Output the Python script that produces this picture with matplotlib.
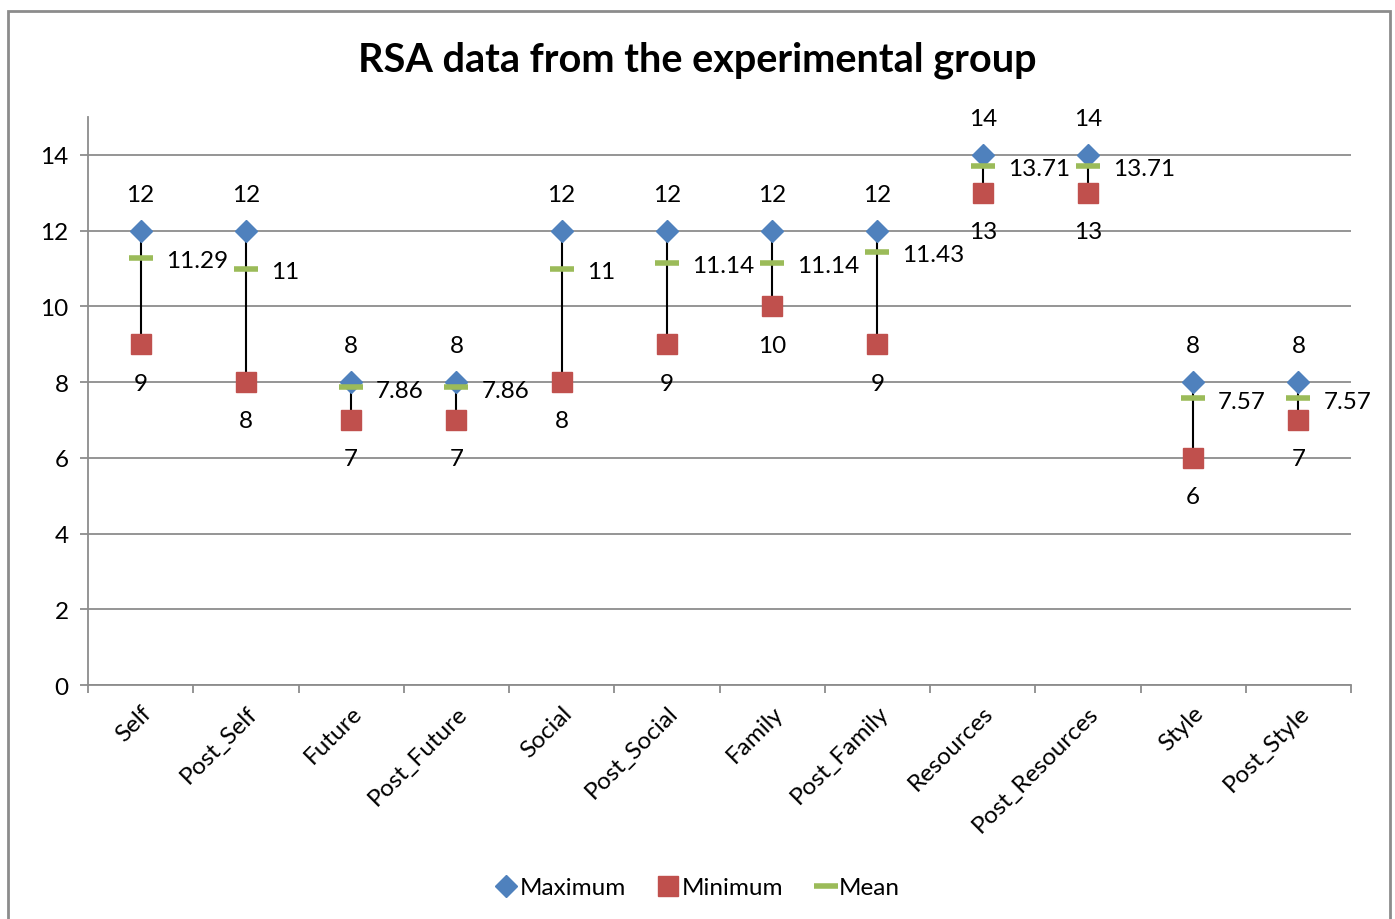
import matplotlib.pyplot as plt
from matplotlib.patches import Rectangle

categories = ["Self", "Post_Self", "Future", "Post_Future", "Social", "Post_Social",
              "Family", "Post_Family", "Resources", "Post_Resources", "Style", "Post_Style"]
maximum = [12, 12, 8, 8, 12, 12, 12, 12, 14, 14, 8, 8]
minimum = [9, 8, 7, 7, 8, 9, 10, 9, 13, 13, 6, 7]
mean = [11.29, 11, 7.86, 7.86, 11, 11.14, 11.14, 11.43, 13.71, 13.71, 7.57, 7.57]

plt.rcParams['font.family'] = ['Lato', 'DejaVu Sans']
FS = 17.5

fig = plt.figure(figsize=(13.95, 9.2), dpi=100)
ax = fig.add_axes([0.0631, 0.2543, 0.9054, 0.6174])

x = list(range(len(categories)))

# high-low lines
ax.vlines(x, minimum, maximum, color='black', lw=1.5, zorder=3)
ax.plot(x, maximum, ls='none', marker='D', ms=11, color='#4F81BD', label='Maximum', zorder=4)
ax.plot(x, minimum, ls='none', marker='s', ms=15, color='#C0504D', label='Minimum', zorder=4)
ax.plot(x, mean, ls='none', marker='_', ms=17, mew=4, color='#9BBB59', label='Mean', zorder=5)

def fmt(v):
    return ('%.2f' % v).rstrip('0').rstrip('.')

for i in x:
    ax.annotate(fmt(maximum[i]), (i, maximum[i]), xytext=(0, 26), textcoords='offset points',
                ha='center', va='center', fontsize=FS)
    ax.annotate(fmt(minimum[i]), (i, minimum[i]), xytext=(0, -28), textcoords='offset points',
                ha='center', va='center', fontsize=FS)
    ax.annotate(fmt(mean[i]), (i, mean[i]), xytext=(18, -2), textcoords='offset points',
                ha='left', va='center', fontsize=FS)

ax.set_xlim(-0.5, len(categories) - 0.5)
ax.set_ylim(0, 15)
ax.set_yticks(range(0, 15, 2))
ax.grid(axis='y', color='#8C8C8C', lw=1.3)
ax.set_axisbelow(True)

ax.set_xticks([i - 0.5 for i in range(len(categories) + 1)])
ax.set_xticklabels([])
ax.set_xticks(x, minor=True)
ax.set_xticklabels(categories, minor=True, rotation=45, ha='right', rotation_mode='anchor',
                   fontsize=FS)
ax.tick_params(axis='x', which='minor', length=0, pad=12)
ax.tick_params(axis='x', which='major', length=6, color='#8C8C8C', width=1.3)
ax.tick_params(axis='y', length=6, color='#8C8C8C', width=1.3, labelsize=FS, pad=8)

for s in ['top', 'right']:
    ax.spines[s].set_visible(False)
for s in ['left', 'bottom']:
    ax.spines[s].set_color('#8C8C8C')
    ax.spines[s].set_linewidth(1.3)

fig.text(0.5, 0.935, "RSA data from the experimental group", ha='center', va='center',
         fontsize=28.5, fontweight='bold')

fig.legend(loc='center', bbox_to_anchor=(0.5, 0.034), ncol=3, frameon=False, fontsize=FS,
           handletextpad=0.1, columnspacing=1.3, handlelength=0.9)

fig.patches.append(Rectangle((8 / 1395, -0.05), (1390 - 8) / 1395, 1 - 12 / 920 + 0.05,
                             transform=fig.transFigure, fill=False, edgecolor='#8C8C8C', lw=2))

fig.savefig('out.png', dpi=100)
